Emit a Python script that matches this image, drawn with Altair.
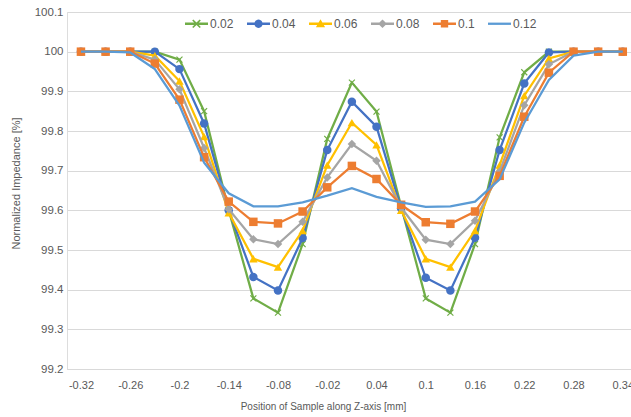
import math
import altair as alt
import pandas as pd

# ---------------- data ----------------
positions = [-0.32, -0.29, -0.26, -0.23, -0.2, -0.17, -0.14, -0.11, -0.08, -0.05, -0.02,
             0.01, 0.04, 0.07, 0.1, 0.13, 0.16, 0.19, 0.22, 0.25, 0.28, 0.31, 0.34]
series_names = ["0.02", "0.04", "0.06", "0.08", "0.1", "0.12"]

v_002 = [100, 100, 100, 100.0, 99.98, 99.85, 99.60, 99.378, 99.342, 99.515, 99.78, 99.922,
         99.849, 99.61, 99.378, 99.342, 99.515, 99.784, 99.948, 100.0, 100, 100, 100]
v_004 = [100, 100, 100, 100.0, 99.956, 99.819, 99.60, 99.432, 99.398, 99.53, 99.752, 99.874,
         99.811, 99.605, 99.43, 99.398, 99.531, 99.752, 99.92, 99.998, 100, 100, 100]
v_006 = [100, 100, 100, 99.99, 99.926, 99.786, 99.594, 99.478, 99.457, 99.549, 99.714, 99.821,
         99.765, 99.60, 99.478, 99.457, 99.549, 99.714, 99.889, 99.983, 100, 100, 100]
v_008 = [100, 100, 100, 99.98, 99.905, 99.757, 99.603, 99.527, 99.515, 99.571, 99.683, 99.767,
         99.725, 99.607, 99.526, 99.515, 99.574, 99.698, 99.865, 99.968, 100, 100, 100]
v_010 = [100, 100, 100, 99.97, 99.879, 99.734, 99.622, 99.571, 99.567, 99.597, 99.658, 99.712,
         99.679, 99.614, 99.57, 99.566, 99.597, 99.687, 99.836, 99.947, 100, 100, 100]
v_012 = [100, 100, 99.998, 99.956, 99.864, 99.72, 99.643, 99.61, 99.61, 99.62, 99.637, 99.656,
         99.634, 99.62, 99.609, 99.61, 99.622, 99.678, 99.821, 99.929, 99.99, 100, 100]
values_by_series = [v_002, v_004, v_006, v_008, v_010, v_012]

x_ticks = [-0.32, -0.26, -0.2, -0.14, -0.08, -0.02, 0.04, 0.1, 0.16, 0.22, 0.28, 0.34]
y_ticks = [99.2, 99.3, 99.4, 99.5, 99.6, 99.7, 99.8, 99.9, 100.0, 100.1]

colors = ["#70AD47", "#4472C4", "#FFC000", "#A5A5A5", "#ED7D31", "#5B9BD5"]

rows = []
for name, vals in zip(series_names, values_by_series):
    for xv, yv in zip(positions, vals):
        rows.append({"pos": xv, "imp": yv, "series": name})
df = pd.DataFrame(rows)

# ---------------- symbol paths (styles) ----------------
def poly(pts):
    n = len(pts)
    area = sum(pts[i][0] * pts[(i + 1) % n][1] - pts[(i + 1) % n][0] * pts[i][1] for i in range(n))
    if area < 0:
        pts = pts[::-1]
    return "M" + "L".join(f"{x:.3f},{y:.3f}" for x, y in pts) + "Z"

def x_pts(L, a):
    base = [(a, L), (a, a), (L, a), (L, -a), (a, -a), (a, -L), (-a, -L), (-a, -a),
            (-L, -a), (-L, a), (-a, a), (-a, L)]
    c = math.sqrt(0.5)
    return [((x - y) * c, (x + y) * c) for x, y in base]

def circle_pts(r, n=24):
    return [(r * math.cos(2 * math.pi * k / n), r * math.sin(2 * math.pi * k / n)) for k in range(n)]

x_marker = poly(x_pts(1.0, 0.14))
marker_shapes = [x_marker, "circle", "triangle-up", "diamond", "square", None]

line_bar = poly([(-1, -0.1), (1, -0.1), (1, 0.1), (-1, 0.1)])
legend_paths = [
    line_bar + poly(x_pts(0.46, 0.07)),
    line_bar + poly(circle_pts(0.36)),
    line_bar + poly([(0, -0.4), (0.4, 0.3), (-0.4, 0.3)]),
    line_bar + poly([(0, -0.38), (0.38, 0), (0, 0.38), (-0.38, 0)]),
    line_bar + poly([(-0.32, -0.32), (0.32, -0.32), (0.32, 0.32), (-0.32, 0.32)]),
    line_bar,
]

TXT = "#595959"
GRID = "#d9d9d9"

legend = alt.Legend(
    title=None, orient="none", direction="horizontal", columns=6,
    legendX=118, legendY=0, padding=0,
    symbolSize=529, symbolOpacity=1, symbolStrokeWidth=0,
    labelOffset=2, columnPadding=13,
    labelFontSize=12, labelColor=TXT, labelFont="Liberation Sans",
)

color_legend = alt.Color("series:N", sort=series_names,
                         scale=alt.Scale(domain=series_names, range=colors), legend=legend)
shape_legend = alt.Shape("series:N", sort=series_names,
                         scale=alt.Scale(domain=series_names, range=legend_paths), legend=legend)

x_enc = alt.X("pos:Q", scale=alt.Scale(domain=[-0.337, 0.35], nice=False, zero=False),
              axis=alt.Axis(values=x_ticks,
                            labelExpr="replace(format(datum.value, '.2~f'), '\u2212', '-')",
                            grid=False, ticks=False, domain=True, domainColor=GRID,
                            labelFontSize=11, labelColor=TXT, labelPadding=10,
                            title="Position of Sample along Z-axis [mm]",
                            titleFontSize=10, titleFontWeight="normal", titleColor=TXT,
                            titleX=256, titlePadding=11))
y_enc = alt.Y("imp:Q", scale=alt.Scale(domain=[99.2, 100.1], nice=False, zero=False),
              axis=alt.Axis(values=y_ticks,
                            labelExpr="replace(format(datum.value, '.1~f'), '\u2212', '-')",
                            grid=True, gridColor=GRID, gridWidth=1, ticks=False, domain=False,
                            labelFontSize=11.5, labelColor=TXT, labelPadding=4,
                            title="Normalized Impedance [%]",
                            titleFontSize=11, titleFontWeight="normal", titleColor=TXT,
                            titleX=-46, titleY=171))

base = alt.Chart(df)
layers = []
for name, shp, col in zip(series_names, marker_shapes, colors):
    sub = base.transform_filter(alt.datum.series == name)
    layers.append(sub.mark_line(strokeWidth=2.25, color=col).encode(x=x_enc, y=y_enc))
    if shp is not None:
        layers.append(sub.mark_point(filled=True, size=72, opacity=1, shape=shp, color=col).encode(
            x=x_enc, y=y_enc))

# legend-only layer (no rows drawn): carries the combined line+marker legend symbols
legend_layer = base.transform_filter("false").mark_point(filled=True, opacity=1).encode(
    x=x_enc, y=y_enc, color=color_legend, shape=shape_legend)
layers.append(legend_layer)

chart = alt.layer(*layers).properties(
    width=564, height=357,
    autosize=alt.AutoSizeParams(type="none"),
    padding={"left": 67, "top": 12, "right": 0, "bottom": 48},
    background="white",
).configure_view(stroke=None).configure(font="Liberation Sans")

chart.save("out.html", embed_options={"renderer": "svg", "actions": False})
